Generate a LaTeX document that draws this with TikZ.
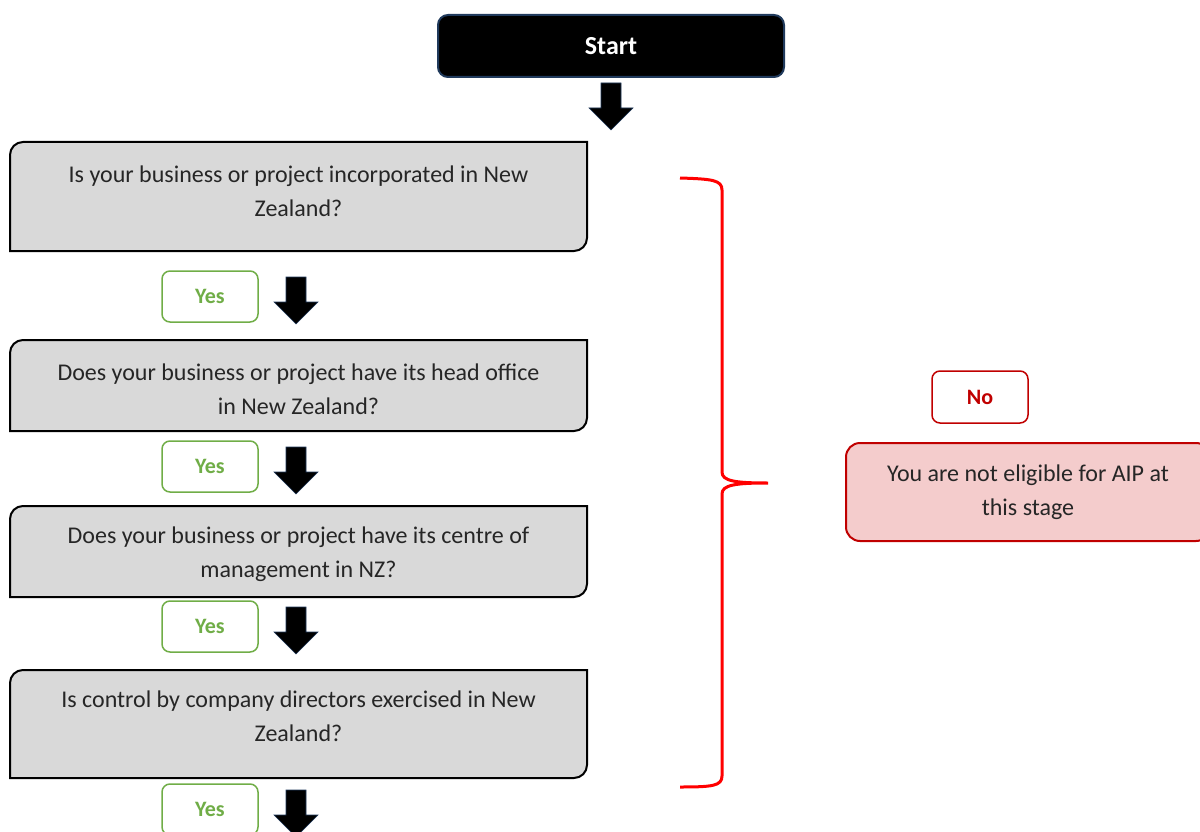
\documentclass[tikz,border=0pt]{standalone}
\usepackage{fontspec}
\setmainfont{Carlito}
\usetikzlibrary{calc}
\pgfdeclarelayer{background}
\pgfsetlayers{background,main}
\definecolor{qgrey}{HTML}{D9D9D9}
\definecolor{txt}{HTML}{262626}
\definecolor{yesgreen}{HTML}{70AD47}
\definecolor{nored}{HTML}{C00000}
\definecolor{pink}{HTML}{F4CCCC}
\definecolor{navy}{HTML}{203A5C}
\definecolor{bracered}{HTML}{FF0000}
% #1 node name, #2 top y, #3 bottom y
\newcommand\qshape[3]{%
  \begin{pgfonlayer}{background}
  \draw[qline] (10,#3) -- (10,#2+13)
    arc[start angle=180,end angle=90,radius=13pt] -- (587,#2)
    -- (587,#3-13)
    arc[start angle=0,end angle=-90,radius=13pt] -- cycle;
  \end{pgfonlayer}}
\begin{document}
\begin{tikzpicture}[x=1pt,y=-1pt,
  qbox/.style={inner sep=0pt, align=center,
    font=\fontsize{24}{34}\selectfont, text=txt},
  qline/.style={fill=qgrey, draw=black, line width=2pt},
  startbox/.style={fill=black, draw=navy, line width=2pt, rounded corners=10pt,
    minimum width=346pt, minimum height=62pt, text=white,
    font=\bfseries\fontsize{26}{30}\selectfont},
  yesbox/.style={draw=yesgreen, line width=1.5pt, rounded corners=8pt,
    minimum width=96pt, minimum height=51pt, text=yesgreen,
    font=\bfseries\fontsize{22}{26}\selectfont},
  nobox/.style={draw=nored, line width=1.5pt, rounded corners=8pt,
    minimum width=96pt, minimum height=52pt, text=nored,
    font=\bfseries\fontsize{22}{26}\selectfont},
  endbox/.style={fill=pink, draw=nored, line width=2pt, rounded corners=14pt,
    minimum width=364pt, minimum height=98pt, text=txt, align=center,
    font=\fontsize{24}{34}\selectfont},
  brace/.style={draw=bracered, line width=3pt},
  darrow/.pic={\filldraw[fill=black, draw=navy, line width=0.6pt]
    (-10,0) -- (10,0) -- (10,25) -- (22,25) -- (0,47) -- (-22,25) -- (-10,25) -- cycle;}
]
\useasboundingbox (0,0) rectangle (1200,832);

\node[startbox] (start) at (611,46) {Start};
\pic at (611,83) {darrow};

\node[qbox] (q1) at (298.5,191) {Is your business or project incorporated in New\\Zealand?};
\qshape{q1}{142}{251}
\node[yesbox] (y1) at (210,296.5) {Yes};
\pic at (296,277) {darrow};

\node[qbox] (q2) at (298.5,389) {Does your business or project have its head office\\in New Zealand?};
\qshape{q2}{340}{431}
\node[yesbox] (y2) at (210,466.5) {Yes};
\pic at (296,447) {darrow};

\node[qbox] (q3) at (298.5,554) {Does your business or project have its centre of\\management in NZ?};
\qshape{q3}{506}{597}
\node[yesbox] (y3) at (210,626.5) {Yes};
\pic at (296,607) {darrow};

\node[qbox] (q4) at (298.5,716.5) {Is control by company directors exercised in New\\Zealand?};
\qshape{q4}{670}{778}
\node[yesbox] (y4) at (210,809.5) {Yes};
\pic at (296,790) {darrow};

\coordinate (bt) at (680,178);
\coordinate (bm) at (768,483);
\coordinate (bb) at (680,787);
\draw[brace] (bt) .. controls (712,179) and (722,180) .. (722,190)
  -- (722,472) .. controls (722,481) and (735,483) .. (bm)
  .. controls (735,483) and (722,485) .. (722,494)
  -- (722,776) .. controls (722,786) and (712,787) .. (bb);

\node[nobox] (no) at (980,397) {No};
\node[endbox] (end) at (1028,492) {You are not eligible for AIP at\\this stage};
\end{tikzpicture}
\end{document}
